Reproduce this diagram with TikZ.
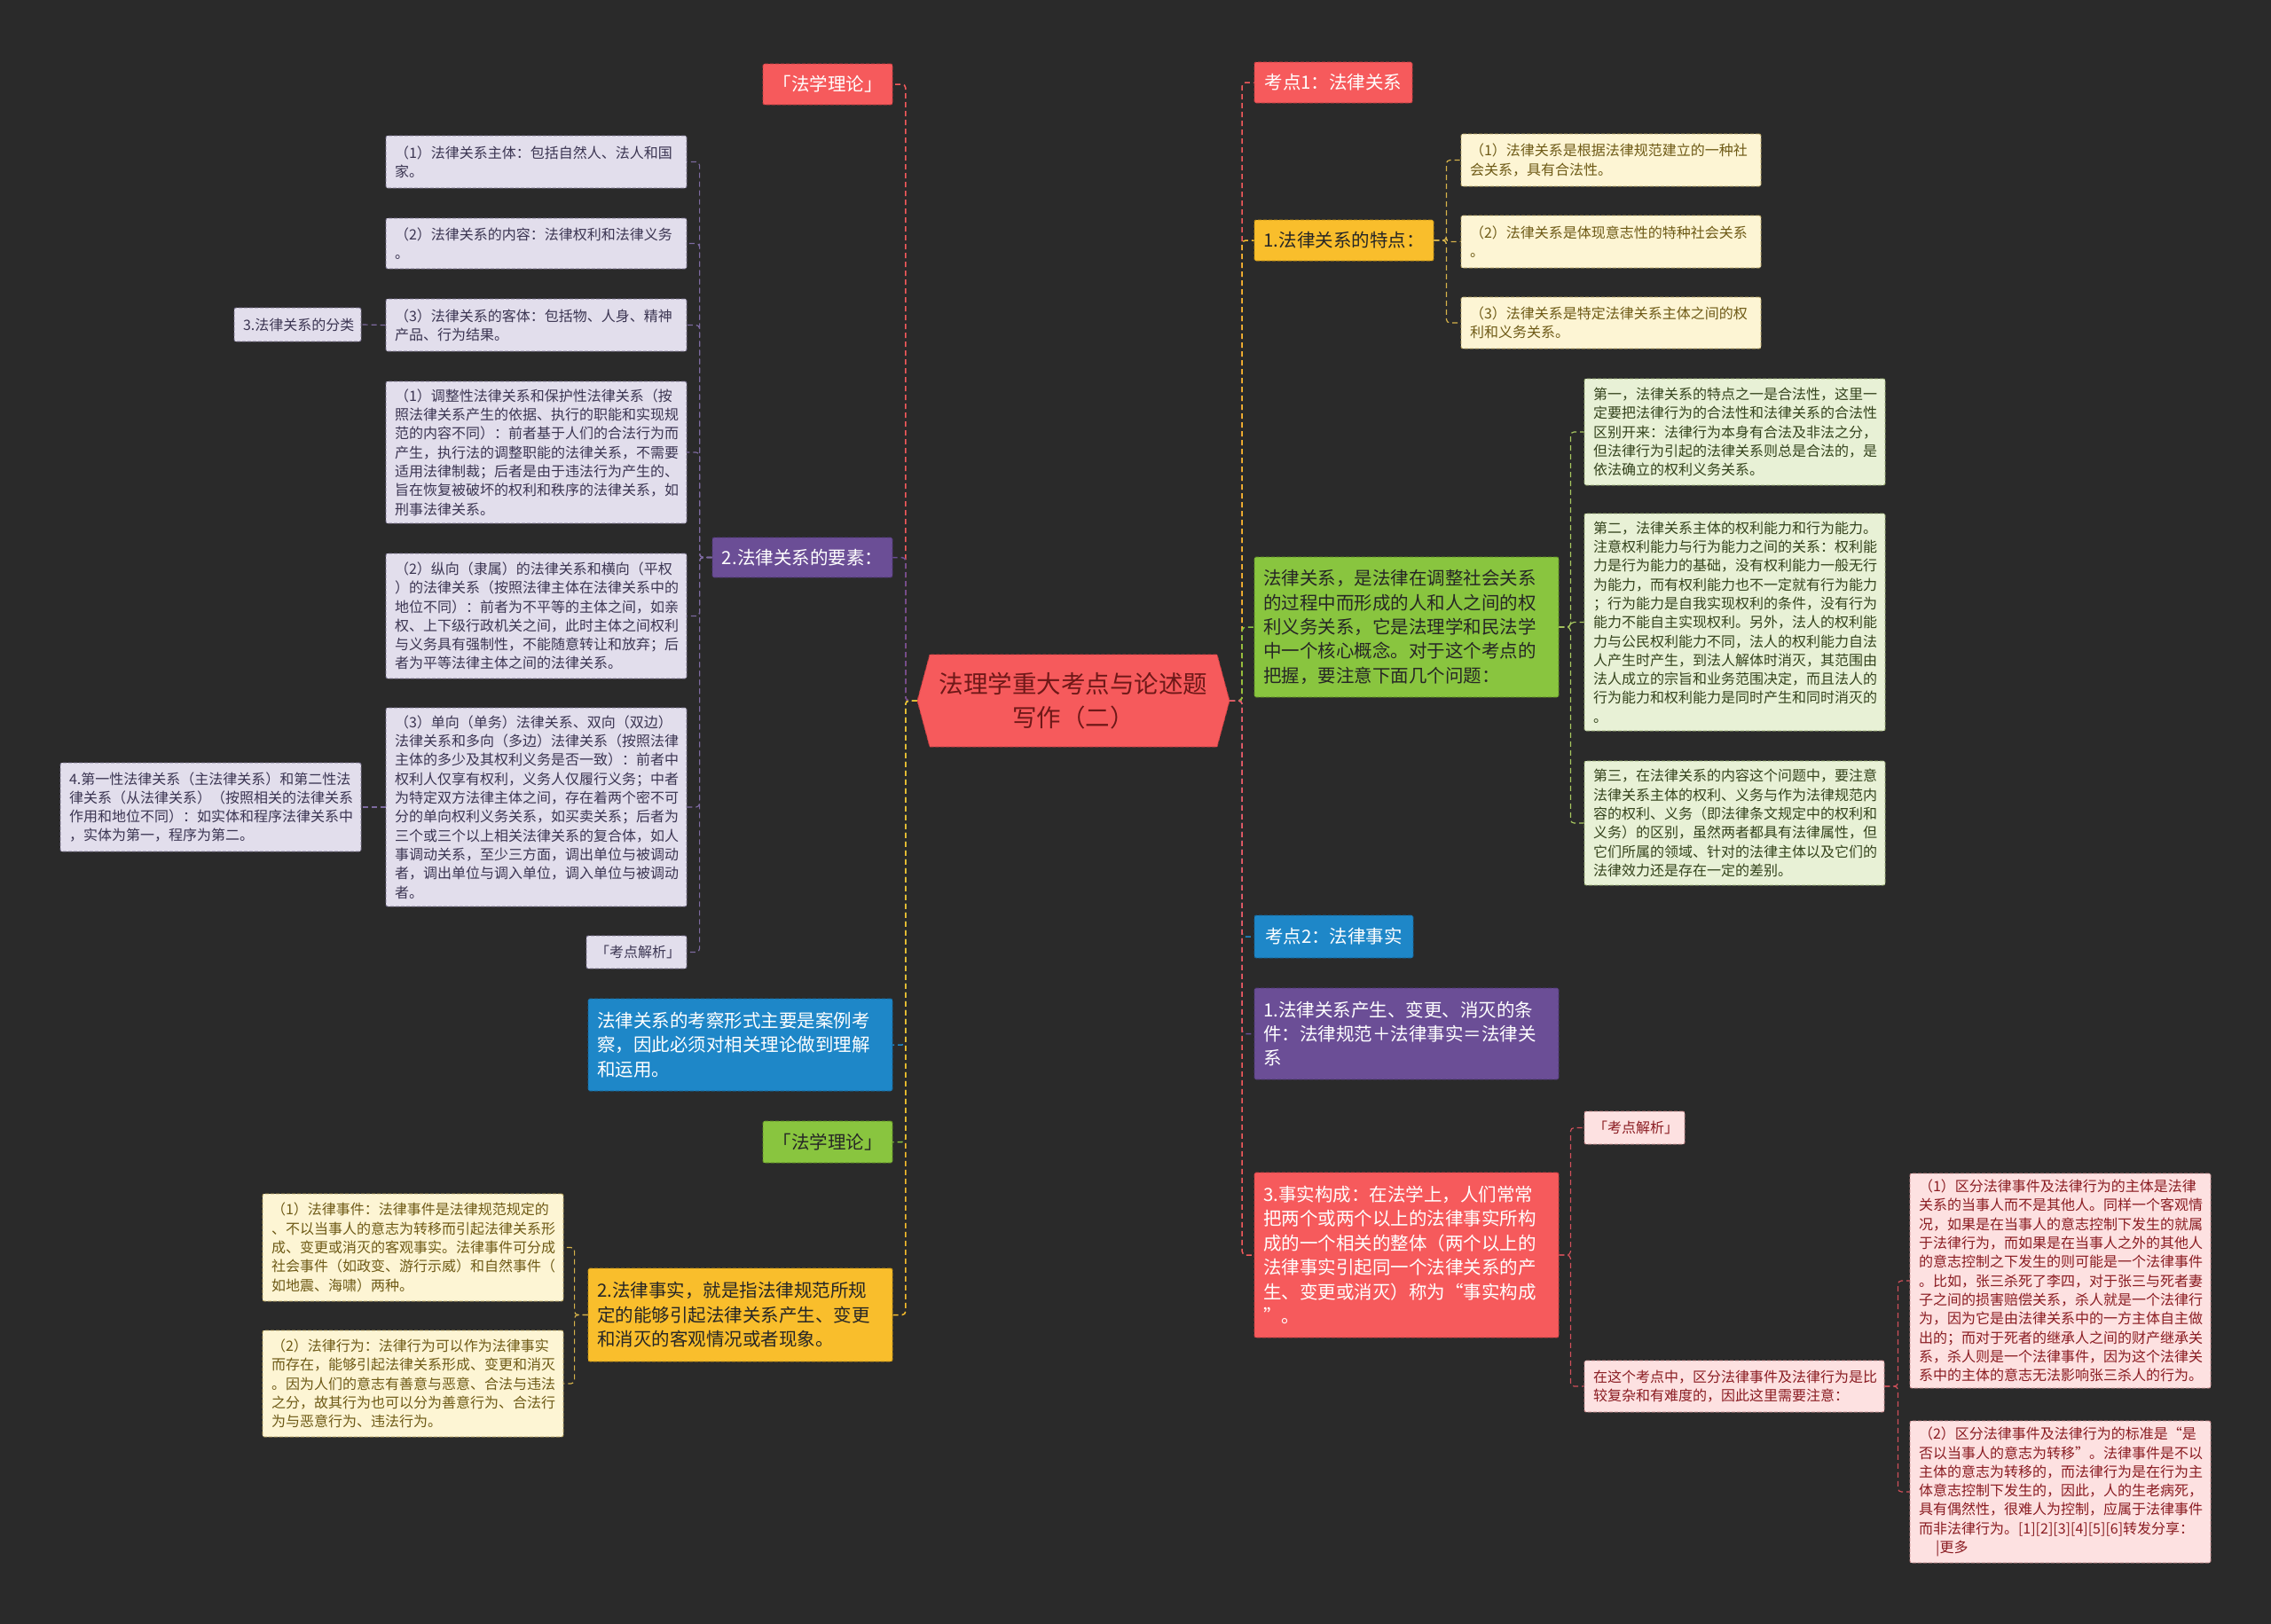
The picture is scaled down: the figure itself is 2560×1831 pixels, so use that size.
\documentclass[tikz,border=0pt]{standalone}
\usepackage{fontspec}
\setmainfont{Noto Sans CJK SC}
\definecolor{bg}{HTML}{2A2A2A}
\definecolor{cred}{HTML}{F65A5C}
\definecolor{credd}{HTML}{C83C40}
\definecolor{cpur}{HTML}{6B4E96}
\definecolor{cpurd}{HTML}{4E3774}
\definecolor{cblue}{HTML}{1E87C8}
\definecolor{cblued}{HTML}{13659A}
\definecolor{cgreen}{HTML}{89C53F}
\definecolor{cgreend}{HTML}{5E8C22}
\definecolor{cyel}{HTML}{F9BE2C}
\definecolor{cyeld}{HTML}{C08E10}
\definecolor{clav}{HTML}{E2DEEC}
\definecolor{clavd}{HTML}{77708E}
\definecolor{clavt}{HTML}{3B3552}
\definecolor{clavl}{HTML}{7D6AA0}
\definecolor{ccream}{HTML}{FDF5D4}
\definecolor{ccreamd}{HTML}{B9A55E}
\definecolor{ccreamt}{HTML}{6E5A16}
\definecolor{ccreaml}{HTML}{D6B24A}
\definecolor{clg}{HTML}{E8F1D6}
\definecolor{clgd}{HTML}{98AF6E}
\definecolor{clgt}{HTML}{34431C}
\definecolor{clgl}{HTML}{A8C860}
\definecolor{cpink}{HTML}{FDE1E1}
\definecolor{cpinkd}{HTML}{C9878A}
\definecolor{cpinkt}{HTML}{8A1C22}
\definecolor{cpinkl}{HTML}{D0505A}
\definecolor{ctitle}{HTML}{6E1818}
\newcommand\bx[7]{%
  \pgfmathsetmacro\bxw{#5-#3}\pgfmathsetmacro\bxh{#6-#4}%
  \pgfmathsetmacro\bxcx{(#3+#5)/2}\pgfmathsetmacro\bxcy{(#4+#6)/2}%
  \pgfmathsetmacro\bxtw{#5-#3-20}%
  \node[#2, minimum width=\bxw pt, minimum height=\bxh pt, text width=\bxtw pt] (#1) at (\bxcx,\bxcy) {#7};}
\begin{document}
\begin{tikzpicture}[x=1pt,y=-1pt,
  bxs/.style={rounded corners=2pt, inner xsep=10pt, inner ysep=0pt, align=left, dash pattern=on 4pt off 2pt, line width=0.8pt},
  small/.style={font=\fontsize{16}{21.3}\selectfont},
  big/.style={font=\fontsize{20.5}{27.4}\selectfont},
  lav/.style={bxs, small, fill=clav, draw=clavd, text=clavt},
  cream/.style={bxs, small, fill=ccream, draw=ccreamd, text=ccreamt},
  lgr/.style={bxs, small, fill=clg, draw=clgd, text=clgt},
  pink/.style={bxs, small, fill=cpink, draw=cpinkd, text=cpinkt},
  redb/.style={bxs, big, fill=cred, draw=credd, text=white},
  purb/.style={bxs, big, fill=cpur, draw=cpurd, text=white},
  blueb/.style={bxs, big, fill=cblue, draw=cblued, text=white},
  greenb/.style={bxs, big, fill=cgreen, draw=cgreend, text=black!85},
  yelb/.style={bxs, big, fill=cyel, draw=cyeld, text=black!85},
  lk/.style={dash pattern=on 6pt off 4pt, line width=1.5pt, rounded corners=4pt},
]
\fill[bg] (0,0) rectangle (2560,1831);
\useasboundingbox (0,0) rectangle (2560,1831);

% central node
\fill[cred, draw=credd, line width=0.8pt, dash pattern=on 4pt off 2pt] (1048,738) -- (1034,790) -- (1048,842) -- (1372,842) -- (1386,790) -- (1372,738) -- cycle;
\node[minimum width=352pt, minimum height=104pt, align=center, text=ctitle, font=\fontsize{27.5}{37.5}\selectfont] (c) at (1210,790) {法理学重大考点与论述题\\写作（二）};

% left main branches
\bx{fx1}{redb,align=center}{860}{72}{1006}{118}{「法学理论」}
\bx{yao}{purb,align=center}{803}{606}{1006}{651}{2.法律关系的要素：}
\bx{kc}{blueb}{663}{1126}{1006}{1230}{法律关系的考察形式主要是案例考\\察，因此必须对相关理论做到理解\\和运用。}
\bx{fx2}{greenb,align=center}{860}{1264}{1006}{1311}{「法学理论」}
\bx{fs}{yelb}{663}{1430}{1006}{1535}{2.法律事实，就是指法律规范所规\\定的能够引起法律关系产生、变更\\和消灭的客观情况或者现象。}

% right main branches
\bx{k1}{redb,align=center}{1414}{70}{1592}{116}{考点1：法律关系}
\bx{te}{yelb,align=center}{1414}{248}{1616}{294}{1.法律关系的特点：}
\bx{gr}{greenb}{1414}{628}{1757}{786}{法律关系，是法律在调整社会关系\\的过程中而形成的人和人之间的权\\利义务关系，它是法理学和民法学\\中一个核心概念。对于这个考点的\\把握，要注意下面几个问题：}
\bx{k2}{blueb,align=center}{1414}{1032}{1593}{1080}{考点2：法律事实}
\bx{cd}{purb}{1414}{1114}{1757}{1217}{1.法律关系产生、变更、消灭的条\\件：法律规范＋法律事实＝法律关\\系}
\bx{sj}{redb}{1414}{1322}{1757}{1508}{3.事实构成：在法学上，人们常常\\把两个或两个以上的法律事实所构\\成的一个相关的整体（两个以上的\\法律事实引起同一个法律关系的产\\生、变更或消灭）称为“事实构成\\”。}

% lavender children
\bx{l1}{lav}{435}{153}{774}{212}{（1）法律关系主体：包括自然人、法人和国\\家。}
\bx{l2}{lav}{435}{246}{774}{303}{（2）法律关系的内容：法律权利和法律义务\\。}
\bx{l3}{lav}{435}{337}{774}{396}{（3）法律关系的客体：包括物、人身、精神\\产品、行为结果。}
\bx{l4}{lav}{435}{430}{774}{590}{（1）调整性法律关系和保护性法律关系（按\\照法律关系产生的依据、执行的职能和实现规\\范的内容不同）：前者基于人们的合法行为而\\产生，执行法的调整职能的法律关系，不需要\\适用法律制裁；后者是由于违法行为产生的、\\旨在恢复被破坏的权利和秩序的法律关系，如\\刑事法律关系。}
\bx{l5}{lav}{435}{624}{774}{765}{（2）纵向（隶属）的法律关系和横向（平权\\）的法律关系（按照法律主体在法律关系中的\\地位不同）：前者为不平等的主体之间，如亲\\权、上下级行政机关之间，此时主体之间权利\\与义务具有强制性，不能随意转让和放弃；后\\者为平等法律主体之间的法律关系。}
\bx{l6}{lav}{435}{798}{774}{1022}{（3）单向（单务）法律关系、双向（双边）\\法律关系和多向（多边）法律关系（按照法律\\主体的多少及其权利义务是否一致）：前者中\\权利人仅享有权利，义务人仅履行义务；中者\\为特定双方法律主体之间，存在着两个密不可\\分的单向权利义务关系，如买卖关系；后者为\\三个或三个以上相关法律关系的复合体，如人\\事调动关系，至少三方面，调出单位与被调动\\者，调出单位与调入单位，调入单位与被调动\\者。}
\bx{l7}{lav,align=center}{661}{1055}{774}{1092}{「考点解析」}
\bx{fenlei}{lav,align=center}{264}{347}{407}{385}{3.法律关系的分类}
\bx{di4}{lav}{68}{860}{407}{960}{4.第一性法律关系（主法律关系）和第二性法\\律关系（从法律关系）（按照相关的法律关系\\作用和地位不同）：如实体和程序法律关系中\\，实体为第一，程序为第二。}

% cream left children
\bx{y1}{cream}{296}{1346}{635}{1467}{（1）法律事件：法律事件是法律规范规定的\\、不以当事人的意志为转移而引起法律关系形\\成、变更或消灭的客观事实。法律事件可分成\\社会事件（如政变、游行示威）和自然事件（\\如地震、海啸）两种。}
\bx{y2}{cream}{296}{1500}{635}{1620}{（2）法律行为：法律行为可以作为法律事实\\而存在，能够引起法律关系形成、变更和消灭\\。因为人们的意志有善意与恶意、合法与违法\\之分，故其行为也可以分为善意行为、合法行\\为与恶意行为、违法行为。}

% cream right children
\bx{r1}{cream}{1647}{151}{1985}{210}{（1）法律关系是根据法律规范建立的一种社\\会关系，具有合法性。}
\bx{r2}{cream}{1647}{243}{1985}{302}{（2）法律关系是体现意志性的特种社会关系\\。}
\bx{r3}{cream}{1647}{335}{1985}{393}{（3）法律关系是特定法律关系主体之间的权\\利和义务关系。}

% light green children
\bx{g1}{lgr}{1786}{427}{2125}{547}{第一，法律关系的特点之一是合法性，这里一\\定要把法律行为的合法性和法律关系的合法性\\区别开来：法律行为本身有合法及非法之分，\\但法律行为引起的法律关系则总是合法的，是\\依法确立的权利义务关系。}
\bx{g2}{lgr}{1786}{579}{2125}{824}{第二，法律关系主体的权利能力和行为能力。\\注意权利能力与行为能力之间的关系：权利能\\力是行为能力的基础，没有权利能力一般无行\\为能力，而有权利能力也不一定就有行为能力\\；行为能力是自我实现权利的条件，没有行为\\能力不能自主实现权利。另外，法人的权利能\\力与公民权利能力不同，法人的权利能力自法\\人产生时产生，到法人解体时消灭，其范围由\\法人成立的宗旨和业务范围决定，而且法人的\\行为能力和权利能力是同时产生和同时消灭的\\。}
\bx{g3}{lgr}{1786}{858}{2125}{998}{第三，在法律关系的内容这个问题中，要注意\\法律关系主体的权利、义务与作为法律规范内\\容的权利、义务（即法律条文规定中的权利和\\义务）的区别，虽然两者都具有法律属性，但\\它们所属的领域、针对的法律主体以及它们的\\法律效力还是存在一定的差别。}

% pink children
\bx{p0}{pink,align=center}{1786}{1253}{1899}{1290}{「考点解析」}
\bx{p1}{pink}{1786}{1534}{2124}{1592}{在这个考点中，区分法律事件及法律行为是比\\较复杂和有难度的，因此这里需要注意：}
\bx{p2}{pink}{2153}{1323}{2492}{1565}{（1）区分法律事件及法律行为的主体是法律\\关系的当事人而不是其他人。同样一个客观情\\况，如果是在当事人的意志控制下发生的就属\\于法律行为，而如果是在当事人之外的其他人\\的意志控制之下发生的则可能是一个法律事件\\。比如，张三杀死了李四，对于张三与死者妻\\子之间的损害赔偿关系，杀人就是一个法律行\\为，因为它是由法律关系中的一方主体自主做\\出的；而对于死者的继承人之间的财产继承关\\系，杀人则是一个法律事件，因为这个法律关\\系中的主体的意志无法影响张三杀人的行为。}
\bx{p3}{pink}{2153}{1602}{2492}{1762}{（2）区分法律事件及法律行为的标准是“是\\否以当事人的意志为转移”。法律事件是不以\\主体的意志为转移的，而法律行为是在行为主\\体意志控制下发生的，因此，人的生老病死，\\具有偶然性，很难人为控制，应属于法律事件\\而非法律行为。[1][2][3][4][5][6]转发分享：\\\hspace*{1.2em}|更多}

% connectors: centre to left
\draw[lk,draw=cred] (c.west) -- ++(-13,0) |- (fx1.east);
\draw[lk,draw=cpur] (c.west) -- ++(-13,0) |- (yao.east);
\draw[lk,draw=cblue] (c.west) -- ++(-13,0) |- (kc.east);
\draw[lk,draw=cgreen] (c.west) -- ++(-13,0) |- (fx2.east);
\draw[lk,draw=cyel] (c.west) -- ++(-13,0) |- (fs.east);
% centre to right
\draw[lk,draw=cred] (c.east) -- ++(14,0) |- (k1.west);
\draw[lk,draw=cyel] (c.east) -- ++(14,0) |- (te.west);
\draw[lk,draw=cgreen] (c.east) -- ++(14,0) |- (gr.west);
\draw[lk,draw=cblue] (c.east) -- ++(14,0) |- (k2.west);
\draw[lk,draw=cpur] (c.east) -- ++(14,0) |- (cd.west);
\draw[lk,draw=cred] (c.east) -- ++(14,0) |- (sj.west);
% sub branches
\foreach \t in {l1,l2,l3,l4,l5,l6,l7}
  \draw[lk,draw=clavl,line width=1.2pt] (yao.west) -- ++(-14,0) |- (\t.east);
\draw[lk,draw=clavl,line width=1.2pt] (l3.west) -- (fenlei.east);
\draw[lk,draw=clavl,line width=1.2pt] (l6.west) -- (di4.east);
\foreach \t in {y1,y2}
  \draw[lk,draw=ccreaml,line width=1.2pt] (fs.west) -- ++(-15,0) |- (\t.east);
\foreach \t in {r1,r2,r3}
  \draw[lk,draw=ccreaml,line width=1.2pt] (te.east) -- ++(14,0) |- (\t.west);
\foreach \t in {g1,g2,g3}
  \draw[lk,draw=clgl,line width=1.2pt] (gr.east) -- ++(13,0) |- (\t.west);
\foreach \t in {p0,p1}
  \draw[lk,draw=cpinkl,line width=1.2pt] (sj.east) -- ++(13,0) |- (\t.west);
\foreach \t in {p2,p3}
  \draw[lk,draw=cpinkl,line width=1.2pt] (p1.east) -- ++(15,0) |- (\t.west);
\end{tikzpicture}
\end{document}
